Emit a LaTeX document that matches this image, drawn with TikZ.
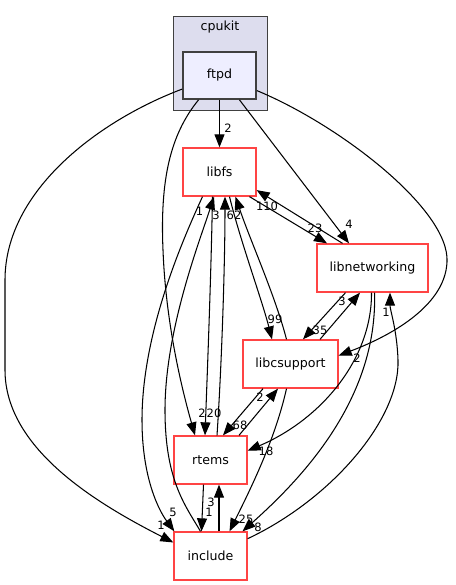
\documentclass[tikz,border=0pt]{standalone}
\usepackage{fontspec}
\setmainfont{DejaVu Sans}
\usetikzlibrary{arrows.meta}
\definecolor{clfill}{HTML}{DDDDEE}
\definecolor{dirfill}{HTML}{EEEEFF}
\definecolor{dirline}{HTML}{404040}
\definecolor{dirred}{HTML}{FF4444}

\begin{document}
\begin{tikzpicture}[x=1pt, y=-1pt,
		dirbox/.style={draw=dirred, line width=1.3pt, minimum height=48pt, inner sep=0pt, font=\fontsize{12.6}{14}\selectfont},
		dep/.style={line width=1.05pt, -{Triangle[length=13pt, width=10pt]}},
		lbl/.style={inner sep=0pt, font=\fontsize{11.5}{13}\selectfont}]
	\useasboundingbox (0,0) rectangle (455,585);

	% cluster
	\draw[dirline, fill=clfill, line width=0.9pt] (173,16) rectangle (267,110);
	\node[inner sep=0pt, font=\fontsize{12.6}{14}\selectfont] (cpukit) at (220,27) {cpukit};

	% directories
	\node[dirbox, draw=dirline, fill=dirfill, line width=1.8pt, minimum width=73pt, minimum height=47pt] (ftpd) at (219.5,75.5) {ftpd};
	\node[dirbox, minimum width=73pt] (libfs) at (219.5,172) {libfs};
	\node[dirbox, minimum width=111pt] (libnet) at (372.5,268) {libnetworking};
	\node[dirbox, minimum width=95pt] (libcs) at (290.5,364) {libcsupport};
	\node[dirbox, minimum width=73pt] (rtems) at (210.5,460) {rtems};
	\node[dirbox, minimum width=73pt] (include) at (210.5,556) {include};

	% from ftpd
	\draw[dep] (ftpd.south) -- (libfs.north);
	\draw[dep] ([xshift=20pt]ftpd.south) -- ([xshift=-23.5pt]libnet.north);
	\draw[dep] (ftpd.-22) .. controls (340,125) and (450,210) .. (447,262)
		.. controls (445,310) and (380,340) .. (libcs.10);
	\draw[dep] ([xshift=-21pt]ftpd.south) .. controls (170,135) and (160,180) .. (163,250)
		.. controls (166,330) and (185,400) .. ([xshift=-15.5pt]rtems.north);
	\draw[dep] (ftpd.200) .. controls (100,120) and (5,190) .. (5,280) -- (5,370)
		.. controls (5,450) and (100,505) .. (include.160);

	% libfs
	\draw[dep] ([xshift=30pt]libfs.south) -- ([xshift=-45.5pt]libnet.north);
	\draw[dep] ([xshift=-30pt]libnet.north) -- (libfs.-26);
	\draw[dep] ([xshift=10pt]libfs.south) .. controls (240,240) and (262,300) .. ([xshift=-18.5pt]libcs.north);
	\draw[dep] ([xshift=-4pt]libcs.north) .. controls (275,295) and (250,240) .. ([xshift=16pt]libfs.south);
	\draw[dep] ([xshift=-7pt]libfs.south) .. controls (211,280) and (207,380) .. ([xshift=-5.5pt]rtems.north);
	\draw[dep] ([xshift=6.5pt]rtems.north) .. controls (222,360) and (225,260) .. ([xshift=5.5pt]libfs.south);
	\draw[dep] ([xshift=-17pt]libfs.south) .. controls (185,235) and (142,330) .. (142,420)
		.. controls (142,480) and (160,512) .. ([xshift=1pt]include.north west);
	\draw[dep] ([xshift=-10pt]include.north) .. controls (185,505) and (165,480) .. (165,410)
		.. controls (165,330) and (200,240) .. ([xshift=-5.5pt]libfs.south);

	% libnetworking
	\draw[dep] ([xshift=-27pt]libnet.south) -- ([xshift=12.5pt]libcs.north);
	\draw[dep] ([xshift=29.5pt]libcs.north) -- ([xshift=-12.5pt]libnet.south);
	\draw[dep] ([xshift=-1pt]libnet.south) .. controls (372,360) and (320,420) .. (rtems.14);
	\draw[dep] ([xshift=2pt]libnet.south) .. controls (378,400) and (300,480) .. ([xshift=32pt]include.north);
	\draw[dep] (include.25) .. controls (330,500) and (400,420) .. (398,360)
		.. controls (397,330) and (390,310) .. ([xshift=17.5pt]libnet.south);

	% libcsupport, rtems
	\draw[dep] ([xshift=-27.5pt]libcs.south) -- ([xshift=12.5pt]rtems.north);
	\draw[dep] ([xshift=28.5pt]rtems.north) -- ([xshift=-12.5pt]libcs.south);
	\draw[dep] ([xshift=-4pt]libcs.south) .. controls (275,440) and (250,490) .. ([xshift=19pt]include.north);
	\draw[dep] ([xshift=-7pt]rtems.south) -- ([xshift=-9pt]include.north);
	\draw[dep] ([xshift=8.5pt]include.north) -- ([xshift=8.5pt]rtems.south);

	% labels
	\node[lbl] (l1) at (228,128) {2};
	\node[lbl] (l2) at (349,224) {4};
	\node[lbl] (l3) at (357,358) {2};
	\node[lbl] (l4) at (202,413) {2};
	\node[lbl] (l5) at (161,525) {1};
	\node[lbl] (l6) at (315,228) {23};
	\node[lbl] (l7) at (267,206) {110};
	\node[lbl] (l8) at (275,319) {99};
	\node[lbl] (l9) at (234,215) {62};
	\node[lbl] (l10) at (216,215) {3};
	\node[lbl] (l11) at (199.5,211) {1};
	\node[lbl] (l12) at (214,413) {20};
	\node[lbl] (l13) at (173,512) {5};
	\node[lbl] (l14) at (320,330) {35};
	\node[lbl] (l15) at (342,301) {3};
	\node[lbl] (l16) at (266,451) {18};
	\node[lbl] (l17) at (258,527) {8};
	\node[lbl] (l18) at (246,519) {25};
	\node[lbl] (l19) at (386,312) {1};
	\node[lbl] (l20) at (240,425) {68};
	\node[lbl] (l21) at (260,397) {2};
	\node[lbl] (l22) at (209,512) {1};
	\node[lbl] (l23) at (211,502) {3};
\end{tikzpicture}
\end{document}
